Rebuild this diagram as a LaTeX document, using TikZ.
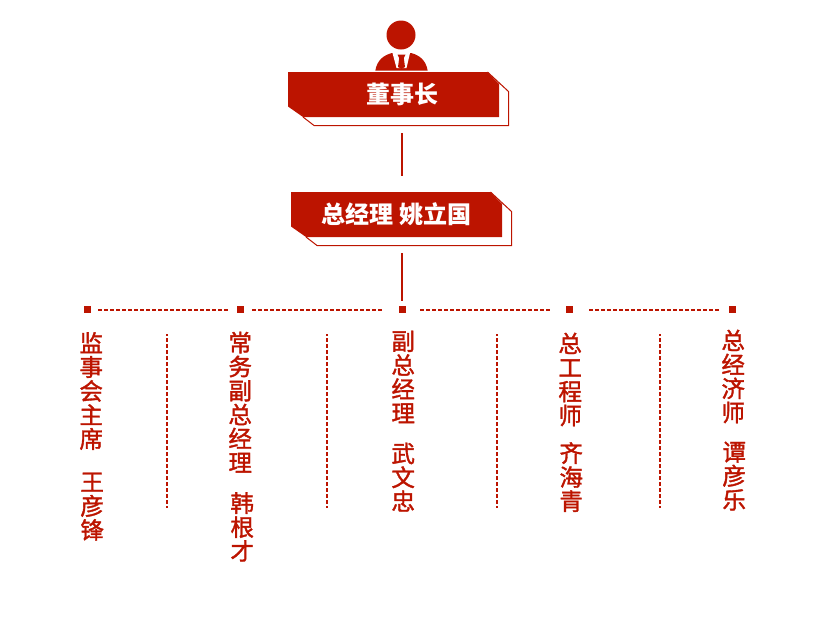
\documentclass[tikz,border=0pt]{standalone}
\usepackage{fontspec}
\setmainfont{Noto Sans CJK SC}
\newfontfamily\columnfont[FakeBold=1.5]{Noto Sans CJK SC}
\usepackage{tikz}
\definecolor{chinared}{HTML}{BC1400}
\tikzset{
  titletext/.style={text=white,font=\fontsize{24}{24}\selectfont\bfseries,inner sep=0pt},
  columntext/.style={text=chinared,font=\columnfont\fontsize{23.5}{24}\selectfont,align=center,inner sep=0pt,anchor=north},
  marker/.style={fill=chinared,minimum size=7pt,inner sep=0pt,outer sep=0pt},
  link/.style={color=chinared,line width=2pt},
  dashlink/.style={color=chinared,line width=2pt,dash pattern=on 4pt off 2pt},
}
\begin{document}
\begin{tikzpicture}[x=1pt,y=-1pt]
\useasboundingbox (0,0) rectangle (826,625);

% person
\fill [color=chinared] (401,35) circle (14.5);
\fill [color=chinared] (375.3,70.7) .. controls (377,60) and (384,55) .. (392,53) -- (411,53) .. controls (419,55) and (426,60) .. (427.7,70.7) -- cycle;
\fill [color=white] (392.5,53) -- (410,53) -- (406.5,68) -- (396.5,68) -- cycle;
\fill [color=chinared] (397.5,54.5) -- (405.5,54.5) -- (403.8,58) -- (405,67) -- (401.5,69) -- (398,67) -- (399.2,58) -- cycle;

% top box
\draw [color=chinared,line width=1pt] (487.5,72) -- (508.5,91.5) -- (508.5,125.5) -- (314,125.5) -- (303,117);
\fill [color=chinared] (288,72) -- (487.5,72) -- (499,84) -- (499,117) -- (303,117) -- (288,106.5) -- cycle;
\node [titletext] (chairman) at (402,94.5) {董事长};

% second box
\draw [color=chinared,line width=1pt] (490.5,192) -- (511.5,211.5) -- (511.5,245.5) -- (317,245.5) -- (306,237);
\fill [color=chinared] (291,192) -- (490.5,192) -- (502,204) -- (502,237) -- (306,237) -- (291,226.5) -- cycle;
\node [titletext] (manager) at (396.5,214.5) {总经理 姚立国};

\coordinate (chairlow) at (402,133);
\coordinate (managertop) at (402,176);
\coordinate (managerlow) at (402,253);
\coordinate (markertop) at (402,301);
\draw [link] (chairlow) -- (managertop);

% row of markers
\node [marker] (m1) at (87.5,309.5) {};
\node [marker] (m2) at (240.5,309.5) {};
\node [marker] (m3) at (402.5,309.5) {};
\node [marker] (m4) at (569.5,309.5) {};
\node [marker] (m5) at (732.5,309.5) {};

\draw [link] (managerlow) -- (markertop);
\draw [dashlink,shorten <=7pt,shorten >=9pt] (m1.east) -- (m2.west);
\draw [dashlink,shorten <=8pt,shorten >=17pt] (m2.east) -- (m3.west);
\draw [dashlink,shorten <=14pt,shorten >=16pt] (m3.east) -- (m4.west);
\draw [dashlink,shorten <=16pt,shorten >=10pt] (m4.east) -- (m5.west);

% separators
\foreach \sx in {167,327,497,660}
  \draw [dashlink,dash phase=2pt] (\sx,334) -- (\sx,508);

% columns
\node [columntext] (title1) at (91.2,332) {监\\事\\会\\主\\席};
\node [columntext] (name1) at (92.2,472.5) {王\\彦\\锋};
\node [columntext] (title2) at (240.2,331.5) {常\\务\\副\\总\\经\\理};
\node [columntext] (name2) at (242.2,492) {韩\\根\\才};
\node [columntext] (title3) at (403.2,330.5) {副\\总\\经\\理};
\node [columntext] (name3) at (403.2,442.5) {武\\文\\忠};
\node [columntext] (title4) at (570.2,332.5) {总\\工\\程\\师};
\node [columntext] (name4) at (571.2,442) {齐\\海\\青};
\node [columntext] (title5) at (733.2,329.5) {总\\经\\济\\师};
\node [columntext] (name5) at (734.2,441.5) {谭\\彦\\乐};

\end{tikzpicture}
\end{document}
